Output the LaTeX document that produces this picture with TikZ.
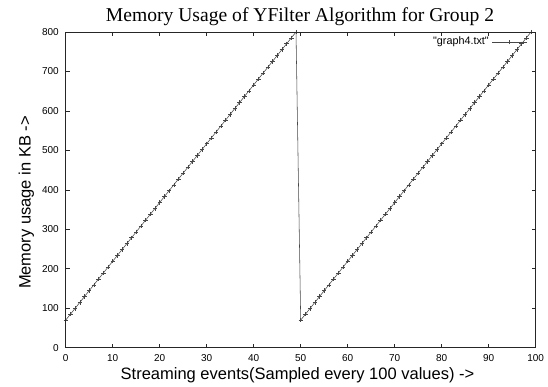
\documentclass[tikz,border=0pt]{standalone}
\usepackage{fontspec}
\setmainfont{Liberation Serif}
\newfontfamily\sansf{Liberation Sans}
\begin{document}
\begin{tikzpicture}[x=1pt,y=1pt,
  frame/.style={draw=black!85, line width=0.9pt},
  tickline/.style={draw=black!85, line width=0.6pt},
  datal/.style={draw=black!72, line width=0.55pt},
  ticklab/.style={font=\sansf\fontsize{10}{12}\selectfont, inner sep=0pt},
  leglab/.style={font=\sansf\fontsize{10.8}{12}\selectfont, inner sep=0pt},
  axlab/.style={font=\sansf\fontsize{16.5}{19}\selectfont, inner sep=0pt},
  titlelab/.style={font=\fontsize{19.6}{22}\selectfont, inner sep=0pt}]
\useasboundingbox (0,0) rectangle (548,387);
\fill[white] (0,0) rectangle (548,387);
% title
\node[titlelab, anchor=base] (title) at (300,365) {Memory Usage of YFilter Algorithm for Group 2};
% axis labels
\node[axlab, anchor=base] (xlabel) at (297.5,7) {Streaming events(Sampled every 100 values) ->};
\node[axlab, anchor=base, rotate=90] (ylabel) at (30.7,184.5) {Memory usage in KB ->};
\begin{scope}[shift={(65.7,39.3)}, x=4.7pt, y=0.3946pt]
  % ticks
  \foreach \v in {0,10,...,100} {
    \draw[tickline] (\v,0) -- ++(0,4pt);
    \draw[tickline] (\v,800) -- ++(0,-4pt);
    \node[ticklab, anchor=base] (xt\v) at (\v,-36) {\v};
  }
  \foreach \v in {0,100,...,800} {
    \draw[tickline] (0,\v) -- ++(4pt,0);
    \draw[tickline] (100,\v) -- ++(-4pt,0);
    \node[ticklab, anchor=east] (yt\v) at (-1.43,\v) {\v};
  }
  % data
  \draw[datal] plot[domain=0:49, samples=50, mark=+, mark size=2.2pt, mark options={line width=0.55pt}] (\x,{70+14.898*\x});
  \coordinate (peak) at (49,800);
  \coordinate (drop) at (50,70);
  \draw[datal] (peak) -- (drop);
  \draw[datal] plot[domain=50:99, samples=50, mark=+, mark size=2.2pt, mark options={line width=0.55pt}] (\x,{70+14.898*(\x-50)});
  % frame
  \draw[frame] (0,0) rectangle (100,800);
\end{scope}
% legend
\node[leglab, anchor=east] (legtext) at (489,345) {"graph4.txt"};
\coordinate (legA) at (492,345);
\coordinate (legB) at (527,345);
\draw[datal] (legA) -- (legB);
\draw[datal] (509.5,342.8) -- (509.5,347.2) (507.3,345) -- (511.7,345);
\end{tikzpicture}
\end{document}
